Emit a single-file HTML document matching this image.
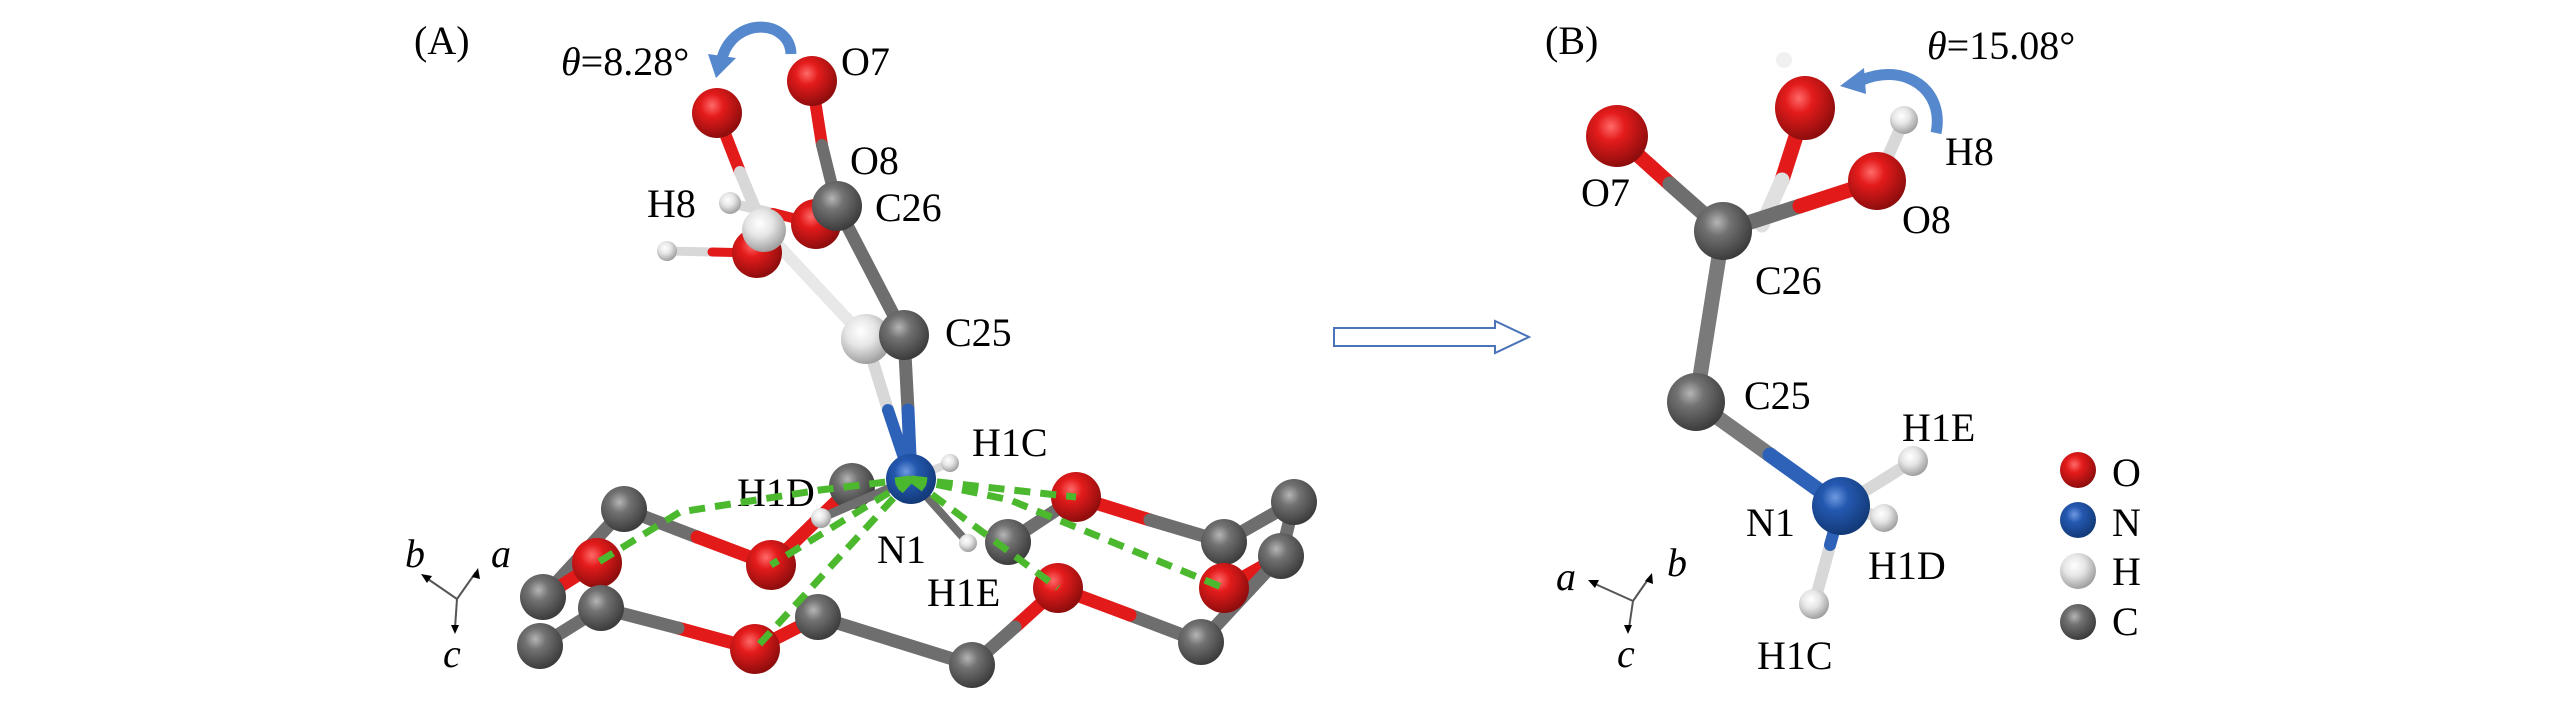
<!DOCTYPE html>
<html><head><meta charset="utf-8"><style>
html,body{margin:0;padding:0;background:#fff}
svg{display:block}
text{font-family:"Liberation Serif",serif;fill:#000}
</style></head><body>
<svg width="2567" height="709" viewBox="0 0 2567 709" xmlns="http://www.w3.org/2000/svg">
<defs>
<radialGradient id="gR" cx="40%" cy="35%" r="65%"><stop offset="0" stop-color="#ff6a6a"/><stop offset="0.35" stop-color="#e41b1b"/><stop offset="1" stop-color="#8e0d0d"/></radialGradient>
<radialGradient id="gG" cx="40%" cy="35%" r="65%"><stop offset="0" stop-color="#b5b5b5"/><stop offset="0.35" stop-color="#727272"/><stop offset="1" stop-color="#3c3c3c"/></radialGradient>
<radialGradient id="gW" cx="40%" cy="35%" r="65%"><stop offset="0" stop-color="#ffffff"/><stop offset="0.45" stop-color="#e6e6e6"/><stop offset="1" stop-color="#a0a0a0"/></radialGradient>
<radialGradient id="gB" cx="40%" cy="35%" r="65%"><stop offset="0" stop-color="#6f9ae0"/><stop offset="0.35" stop-color="#2458b0"/><stop offset="1" stop-color="#133a78"/></radialGradient>
</defs>

<!-- ===== Panel A ===== -->
<text x="414" y="54" font-size="40">(A)</text>
<text x="561" y="75" font-size="40"><tspan font-style="italic">θ</tspan>=8.28°</text>
<text x="841" y="75" font-size="40">O7</text>
<text x="850" y="174" font-size="40">O8</text>
<text x="647" y="217" font-size="40">H8</text>
<text x="875" y="221" font-size="40">C26</text>
<text x="945" y="346" font-size="40">C25</text>
<text x="972" y="456" font-size="40">H1C</text>
<text x="737" y="506" font-size="40">H1D</text>
<text x="877" y="563" font-size="40">N1</text>
<text x="927" y="606" font-size="40">H1E</text>

<!-- rotation arrow A -->
<path d="M791,54 C790,20 735,15 722,58" fill="none" stroke="#5588cc" stroke-width="11"/>
<polygon points="708,54 736,58 716,78" fill="#5588cc"/>

<g stroke-linecap="round">
<!-- ring bonds (back) -->
<line x1="624" y1="509" x2="697" y2="537" stroke="#6e6e6e" stroke-width="13"/>
<line x1="697" y1="537" x2="771" y2="565" stroke="#e31a1a" stroke-width="13"/>
<line x1="771" y1="565" x2="852" y2="486" stroke="#e31a1a" stroke-width="13"/>
<line x1="624" y1="509" x2="543" y2="597" stroke="#6e6e6e" stroke-width="13"/>
<line x1="543" y1="597" x2="597" y2="563" stroke="#e31a1a" stroke-width="13"/>
<line x1="1008" y1="542" x2="1076" y2="497" stroke="#6e6e6e" stroke-width="13"/>
<line x1="1076" y1="497" x2="1150" y2="520" stroke="#e31a1a" stroke-width="13"/>
<line x1="1150" y1="520" x2="1224" y2="542" stroke="#6e6e6e" stroke-width="13"/>
<line x1="1224" y1="542" x2="1294" y2="502" stroke="#6e6e6e" stroke-width="13"/>
<line x1="1294" y1="502" x2="1281" y2="556" stroke="#6e6e6e" stroke-width="13"/>
<line x1="1281" y1="556" x2="1224" y2="588" stroke="#e31a1a" stroke-width="13"/>
<line x1="1281" y1="556" x2="1201" y2="642" stroke="#6e6e6e" stroke-width="13"/>
<line x1="1201" y1="642" x2="1130" y2="615" stroke="#6e6e6e" stroke-width="13"/>
<line x1="1130" y1="615" x2="1058" y2="588" stroke="#e31a1a" stroke-width="13"/>
<line x1="1058" y1="588" x2="1015" y2="627" stroke="#e31a1a" stroke-width="13"/>
<line x1="1015" y1="627" x2="972" y2="665" stroke="#6e6e6e" stroke-width="13"/>
<line x1="972" y1="665" x2="818" y2="617" stroke="#6e6e6e" stroke-width="13"/>
<line x1="818" y1="617" x2="755" y2="649" stroke="#e31a1a" stroke-width="13"/>
<line x1="755" y1="649" x2="678" y2="628" stroke="#e31a1a" stroke-width="13"/>
<line x1="678" y1="628" x2="601" y2="608" stroke="#6e6e6e" stroke-width="13"/>
<line x1="601" y1="608" x2="540" y2="646" stroke="#6e6e6e" stroke-width="13"/>
<line x1="601" y1="608" x2="597" y2="563" stroke="#e31a1a" stroke-width="13"/>
</g>
<circle cx="852" cy="486" r="23" fill="url(#gG)"/>
<circle cx="1008" cy="542" r="23" fill="url(#gG)"/>
<circle cx="1294" cy="502" r="23" fill="url(#gG)"/>
<circle cx="1224" cy="542" r="23" fill="url(#gG)"/>
<circle cx="1224" cy="588" r="25" fill="url(#gR)"/>
<circle cx="1281" cy="556" r="23" fill="url(#gG)"/>
<circle cx="624" cy="509" r="23" fill="url(#gG)"/>
<circle cx="543" cy="597" r="23" fill="url(#gG)"/>
<circle cx="597" cy="563" r="25" fill="url(#gR)"/>
<circle cx="540" cy="646" r="23" fill="url(#gG)"/>
<circle cx="601" cy="608" r="23" fill="url(#gG)"/>
<circle cx="771" cy="565" r="25" fill="url(#gR)"/>
<circle cx="1076" cy="497" r="25" fill="url(#gR)"/>
<circle cx="1058" cy="588" r="25" fill="url(#gR)"/>
<circle cx="818" cy="617" r="23" fill="url(#gG)"/>
<circle cx="755" cy="649" r="25" fill="url(#gR)"/>
<circle cx="972" cy="665" r="23" fill="url(#gG)"/>
<circle cx="1201" cy="642" r="23" fill="url(#gG)"/>

<!-- upper molecule bonds -->
<g stroke-linecap="round">
<line x1="717" y1="113" x2="740" y2="172" stroke="#e31a1a" stroke-width="12"/>
<line x1="740" y1="172" x2="764" y2="230" stroke="#d8d8d8" stroke-width="12"/>
<line x1="730" y1="203" x2="773" y2="213" stroke="#d8d8d8" stroke-width="10"/>
<line x1="773" y1="213" x2="816" y2="224" stroke="#e31a1a" stroke-width="10"/>
<line x1="667" y1="251" x2="712" y2="252" stroke="#d8d8d8" stroke-width="9"/>
<line x1="712" y1="252" x2="757" y2="253" stroke="#e31a1a" stroke-width="9"/>
<line x1="764" y1="230" x2="866" y2="339" stroke="#e8e8e8" stroke-width="12"/>
<line x1="812" y1="81" x2="822" y2="145" stroke="#e31a1a" stroke-width="12"/>
<line x1="822" y1="145" x2="837" y2="206" stroke="#6e6e6e" stroke-width="12"/>
<line x1="837" y1="206" x2="904" y2="335" stroke="#6e6e6e" stroke-width="13"/>
<line x1="866" y1="339" x2="888" y2="410" stroke="#d8d8d8" stroke-width="12"/>
<line x1="888" y1="410" x2="911" y2="479" stroke="#2d62b8" stroke-width="12"/>
<line x1="904" y1="335" x2="908" y2="410" stroke="#6e6e6e" stroke-width="13"/>
<line x1="908" y1="410" x2="911" y2="479" stroke="#2d62b8" stroke-width="13"/>
<line x1="911" y1="479" x2="950" y2="463" stroke="#d8d8d8" stroke-width="8"/>
<line x1="911" y1="479" x2="968" y2="543" stroke="#6e6e6e" stroke-width="8"/>
<line x1="911" y1="479" x2="821" y2="518" stroke="#6e6e6e" stroke-width="9"/>
</g>
<circle cx="812" cy="81" r="25" fill="url(#gR)"/>
<circle cx="717" cy="113" r="25" fill="url(#gR)"/>
<circle cx="757" cy="253" r="25" fill="url(#gR)"/>
<circle cx="816" cy="224" r="25" fill="url(#gR)"/>
<circle cx="764" cy="230" r="22" fill="url(#gW)"/>
<circle cx="730" cy="203" r="11" fill="url(#gW)"/>
<circle cx="667" cy="251" r="10" fill="url(#gW)"/>
<circle cx="837" cy="206" r="25" fill="url(#gG)"/>
<circle cx="866" cy="339" r="25" fill="url(#gW)"/>
<circle cx="904" cy="335" r="25" fill="url(#gG)"/>
<circle cx="911" cy="479" r="25" fill="url(#gB)"/>
<circle cx="950" cy="463" r="9" fill="url(#gW)"/>
<circle cx="968" cy="543" r="9" fill="url(#gW)"/>
<circle cx="821" cy="518" r="10" fill="url(#gW)"/>

<!-- green H-bond dashes -->
<g stroke="#4bb82e" stroke-width="7" stroke-dasharray="16,10" fill="none">
<line x1="911" y1="479" x2="771" y2="565"/>
<line x1="911" y1="479" x2="755" y2="649"/>
<polyline points="911,479 820,490 680,512 597,563"/>
<line x1="911" y1="479" x2="1076" y2="497"/>
<line x1="911" y1="479" x2="1058" y2="588"/>
<polyline points="911,479 1010,500 1224,588"/>
</g>

<!-- axes A -->
<g stroke="#555" stroke-width="2" fill="none">
<line x1="457" y1="599" x2="425" y2="577"/>
<line x1="457" y1="599" x2="476" y2="572"/>
<line x1="457" y1="599" x2="455" y2="628"/>
</g>
<polygon points="421,574 432,576 427,583" fill="#000"/>
<polygon points="478,568 480,579 472,577" fill="#000"/>
<polygon points="455,634 451,625 459,625" fill="#000"/>
<text x="405" y="567" font-size="40" font-style="italic">b</text>
<text x="491" y="567" font-size="40" font-style="italic">a</text>
<text x="443" y="667" font-size="40" font-style="italic">c</text>

<!-- transition arrow -->
<polygon points="1334,328 1495,328 1495,321 1529,337 1495,353 1495,346 1334,346" fill="#fff" stroke="#4a73b8" stroke-width="2"/>

<!-- ===== Panel B ===== -->
<text x="1545" y="54" font-size="40">(B)</text>
<text x="1927" y="59" font-size="40"><tspan font-style="italic">θ</tspan>=15.08°</text>
<text x="1581" y="206" font-size="40">O7</text>
<text x="1945" y="165" font-size="40">H8</text>
<text x="1902" y="233" font-size="40">O8</text>
<text x="1755" y="294" font-size="40">C26</text>
<text x="1744" y="409" font-size="40">C25</text>
<text x="1902" y="441" font-size="40">H1E</text>
<text x="1746" y="536" font-size="40">N1</text>
<text x="1868" y="579" font-size="40">H1D</text>
<text x="1757" y="669" font-size="40">H1C</text>

<path d="M1936,133 C1945,90 1905,62 1862,80" fill="none" stroke="#5588cc" stroke-width="11"/>
<polygon points="1840,86 1864,68 1866,94" fill="#5588cc"/>

<g stroke-linecap="round">
<line x1="1617" y1="136" x2="1670" y2="184" stroke="#e31a1a" stroke-width="15"/>
<line x1="1670" y1="184" x2="1723" y2="231" stroke="#6e6e6e" stroke-width="15"/>
<line x1="1805" y1="108" x2="1782" y2="180" stroke="#e31a1a" stroke-width="15"/>
<line x1="1782" y1="180" x2="1762" y2="225" stroke="#e0e0e0" stroke-width="15"/>
<line x1="1723" y1="231" x2="1800" y2="206" stroke="#6e6e6e" stroke-width="15"/>
<line x1="1800" y1="206" x2="1877" y2="181" stroke="#e31a1a" stroke-width="15"/>
<line x1="1877" y1="181" x2="1904" y2="120" stroke="#d8d8d8" stroke-width="12"/>
<line x1="1723" y1="231" x2="1696" y2="402" stroke="#7a7a7a" stroke-width="15"/>
<line x1="1696" y1="402" x2="1770" y2="455" stroke="#7a7a7a" stroke-width="15"/>
<line x1="1770" y1="455" x2="1841" y2="506" stroke="#2d62b8" stroke-width="15"/>
<line x1="1841" y1="506" x2="1913" y2="461" stroke="#d8d8d8" stroke-width="12"/>
<line x1="1841" y1="506" x2="1884" y2="518" stroke="#d8d8d8" stroke-width="12"/>
<line x1="1841" y1="506" x2="1814" y2="604" stroke="#d8d8d8" stroke-width="12"/>
<line x1="1841" y1="506" x2="1830" y2="545" stroke="#2d62b8" stroke-width="12"/>
</g>
<circle cx="1784" cy="60" r="8" fill="#f0f0f0"/>
<circle cx="1617" cy="136" r="31" fill="url(#gR)"/>
<ellipse cx="1805" cy="108" rx="30" ry="32" fill="url(#gR)"/>
<circle cx="1904" cy="120" r="14" fill="url(#gW)"/>
<circle cx="1877" cy="181" r="29" fill="url(#gR)"/>
<circle cx="1723" cy="231" r="29" fill="url(#gG)"/>
<circle cx="1696" cy="402" r="29" fill="url(#gG)"/>
<circle cx="1913" cy="461" r="15" fill="url(#gW)"/>
<circle cx="1884" cy="518" r="14" fill="url(#gW)"/>
<circle cx="1841" cy="506" r="29" fill="url(#gB)"/>
<circle cx="1814" cy="604" r="15" fill="url(#gW)"/>

<!-- axes B -->
<g stroke="#555" stroke-width="2" fill="none">
<line x1="1633" y1="601" x2="1593" y2="583"/>
<line x1="1633" y1="601" x2="1649" y2="578"/>
<line x1="1633" y1="601" x2="1629" y2="628"/>
</g>
<polygon points="1588,580 1599,580 1595,588" fill="#000"/>
<polygon points="1652,573 1653,584 1645,581" fill="#000"/>
<polygon points="1628,634 1624,625 1632,625" fill="#000"/>
<text x="1556" y="590" font-size="40" font-style="italic">a</text>
<text x="1667" y="576" font-size="40" font-style="italic">b</text>
<text x="1617" y="667" font-size="40" font-style="italic">c</text>

<!-- legend -->
<circle cx="2078" cy="470" r="18" fill="url(#gR)"/>
<circle cx="2078" cy="520" r="18" fill="url(#gB)"/>
<circle cx="2078" cy="571" r="18" fill="url(#gW)"/>
<circle cx="2078" cy="622" r="18" fill="url(#gG)"/>
<text x="2112" y="486" font-size="40">O</text>
<text x="2112" y="536" font-size="40">N</text>
<text x="2112" y="585" font-size="40">H</text>
<text x="2112" y="635" font-size="40">C</text>
</svg>
</body></html>
